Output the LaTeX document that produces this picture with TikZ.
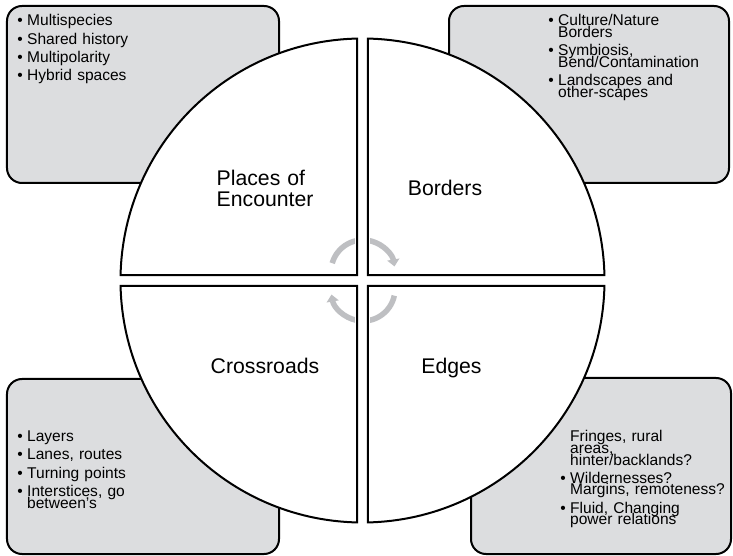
\documentclass[tikz,border=0pt]{standalone}
\usepackage{fontspec}
\setmainfont{Liberation Sans}
\usetikzlibrary{arrows.meta}

\definecolor{boxgray}{RGB}{220,221,223}
\definecolor{arrowgray}{RGB}{190,191,194}

\newcommand{\listfont}{\fontsize{15.6}{11.7}\selectfont\lineskiplimit=-50pt\relax}
\newcommand{\titlefont}{\fontsize{21.3}{20.7}\selectfont\lineskiplimit=-50pt\relax}
\newcommand{\firstbul}{\leavevmode\llap{\textbullet\hspace{4.5bp}}}
\newcommand{\bul}{\par\vspace{6.6bp}\firstbul}

\begin{document}
\begin{tikzpicture}[
    x=1bp, y=1bp,
    infobox/.style={draw,line width=2bp,fill=boxgray,rounded corners=15bp,inner sep=0pt},
    quarterfill/.style={fill=white},
    quarterrim/.style={draw,line width=2bp},
    listtext/.style={inner sep=0pt,text width=190bp,align=left,anchor=base west,font=\listfont},
    title/.style={inner sep=0pt,anchor=base,font=\titlefont},
    cycarrow/.style={draw=arrowgray,line width=5.5bp,-{Triangle[width=12bp,length=7bp]}}
  ]
  \useasboundingbox (-362.5,-275.5) rectangle (370.5,280.5);

  % grey boxes behind the circle
  \node[infobox,minimum width=272bp,minimum height=177bp] (encounterbox) at (-219.5,186) {};
  \node[infobox,minimum width=280bp,minimum height=177bp] (bordersbox) at (226.5,186) {};
  \node[infobox,minimum width=272bp,minimum height=175bp] (crossroadsbox) at (-219.5,-186) {};
  \node[infobox,minimum width=260bp,minimum height=176bp] (edgesbox) at (238.5,-185.5) {};

  % four quarters
  \foreach \b in {0,90,180,270}
    \path[quarterfill] (\b+45:7.5) -- (\b+1.25:242)
      arc[start angle=\b+1.25,end angle=\b+88.75,radius=242] -- cycle;

  % cycle arrows
  \coordinate (upper) at (0.5,8.5);
  \coordinate (lower) at (0.5,-8.5);
  \draw[cycarrow] ([shift={(164:32)}]upper) arc[start angle=164,end angle=10,radius=32];
  \draw[cycarrow] ([shift={(-12:32)}]lower) arc[start angle=-12,end angle=-170,radius=32];
  \fill[white] (-7.8,-45) rectangle (7.8,45);

  \foreach \b in {0,90,180,270}
    \path[quarterrim] (\b+45:7.5) -- (\b+1.25:242)
      arc[start angle=\b+1.25,end angle=\b+88.75,radius=242] -- cycle;

  % quarter titles
  \node[title,anchor=base west,text width=110bp,align=left] (encounter) at (-146,94.5) {Places of\\Encounter};
  \node[title] (borders) at (82.5,84.5) {Borders};
  \node[title] (crossroads) at (-97.5,-93) {Crossroads};
  \node[title] (edges) at (89,-93) {Edges};

  % lists
  \node[listtext] (encounterlist) at (-335.5,254.5)
    {\firstbul Multispecies\bul Shared history\bul Multipolarity\bul Hybrid spaces};
  \node[listtext] (borderslist) at (195.5,254.8)
    {\firstbul Culture/Nature\\Borders\bul Symbiosis,\\Bend/Contamination\bul Landscapes and\\other-scapes};
  \node[listtext] (crossroadslist) at (-335.5,-161.2)
    {\firstbul Layers\bul Lanes, routes\bul Turning points\bul Interstices, go\\between's};
  \node[listtext] (edgeslist) at (207.5,-161.2)
    {Fringes, rural\\areas,\\hinter/backlands?\bul Wildernesses?\\Margins, remoteness?\bul Fluid, Changing\\power relations};
\end{tikzpicture}
\end{document}
